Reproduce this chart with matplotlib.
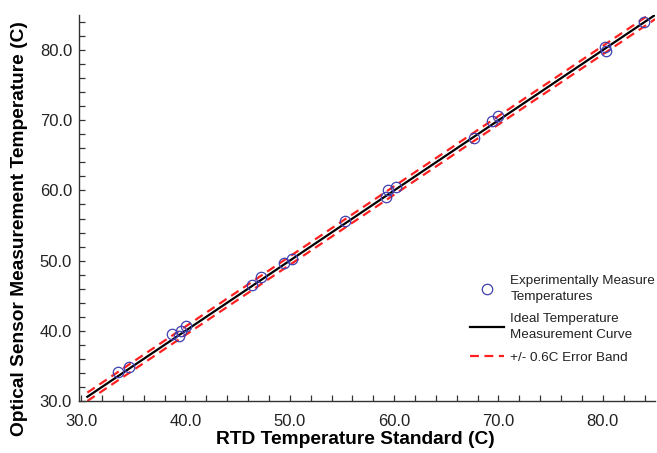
import matplotlib
matplotlib.use("Agg")
import matplotlib.pyplot as plt
from matplotlib.ticker import MultipleLocator, FormatStrFormatter
import numpy as np

plt.rcParams['font.family'] = ['Liberation Sans', 'DejaVu Sans']

# measured points: RTD standard vs optical sensor
rtd = [33.5, 34.6, 38.7, 39.4, 39.6, 40.1, 46.4, 47.2, 49.4, 50.2,
       55.3, 59.2, 59.4, 60.2, 67.7, 69.4, 70.0, 80.2, 80.3, 83.9]
optical = [34.2, 34.8, 39.5, 39.2, 40.0, 40.7, 46.5, 47.6, 49.6, 50.2,
           55.6, 59.1, 60.1, 60.5, 67.5, 69.9, 70.6, 80.5, 79.9, 84.0]

ideal_x = [30.6, 85.0]
ideal_y = [30.6, 85.0]
err_band = 0.6

fig = plt.figure(figsize=(6.57, 4.53), dpi=100)
ax = fig.add_axes([79/657, 52/453, 576/657, 386/453])

ax.plot(ideal_x, [v + err_band for v in ideal_y], color='#ff2020', ls='--', lw=1.6, dashes=(4, 2.5),
        label='+/- 0.6C Error Band')
ax.plot(ideal_x, [v - err_band for v in ideal_y], color='#ff2020', ls='--', lw=1.6, dashes=(4, 2.5))
ax.plot(ideal_x, ideal_y, color='black', lw=1.6, label='Ideal Temperature\nMeasurement Curve')
ax.plot(rtd, optical, ls='none', marker='o', ms=7.5, mfc='none', mec='#4040b0', mew=0.9,
        label='Experimentally Measure\nTemperatures')

ax.set_xlim(29.8, 85)
ax.set_ylim(30, 85)
ax.xaxis.set_major_locator(MultipleLocator(10))
ax.yaxis.set_major_locator(MultipleLocator(10))
ax.xaxis.set_minor_locator(MultipleLocator(2))
ax.yaxis.set_minor_locator(MultipleLocator(2))
ax.xaxis.set_major_formatter(FormatStrFormatter('%.1f'))
ax.yaxis.set_major_formatter(FormatStrFormatter('%.1f'))
ax.tick_params(which='both', direction='in', length=4, width=0.9, color='#333333',
               labelsize=12, labelcolor='#222222')
ax.tick_params(axis='x', pad=9)
ax.tick_params(axis='y', pad=5)

for s in ['top', 'right']:
    ax.spines[s].set_visible(False)
for s in ['left', 'bottom']:
    ax.spines[s].set_linewidth(1.0)
    ax.spines[s].set_color('#333333')

ax.set_xlabel('RTD Temperature Standard (C)', fontsize=13.8, fontweight='bold')
ax.xaxis.set_label_coords((355 - 79) / 576, -(440 - 401) / 386)
ax.xaxis.label.set_va('center')
fig.text(20/657, 1 - 229/453, 'Optical Sensor Measurement Temperature (C)', rotation=90,
         ha='center', va='center', fontsize=13.8, fontweight='bold')

h, l = ax.get_legend_handles_labels()
order = [2, 1, 0]
leg = fig.legend([h[i] for i in order], [l[i] for i in order], loc='upper left',
                 bbox_to_anchor=(470/657, 1 - 275/453), frameon=False, fontsize=9.7,
                 handlelength=2.5, handletextpad=0.5, labelspacing=0.75, borderpad=0,
                 borderaxespad=0)
for t in leg.get_texts():
    t.set_linespacing(1.45)
    t.set_color('#222222')

fig.savefig('out.png', dpi=100)
